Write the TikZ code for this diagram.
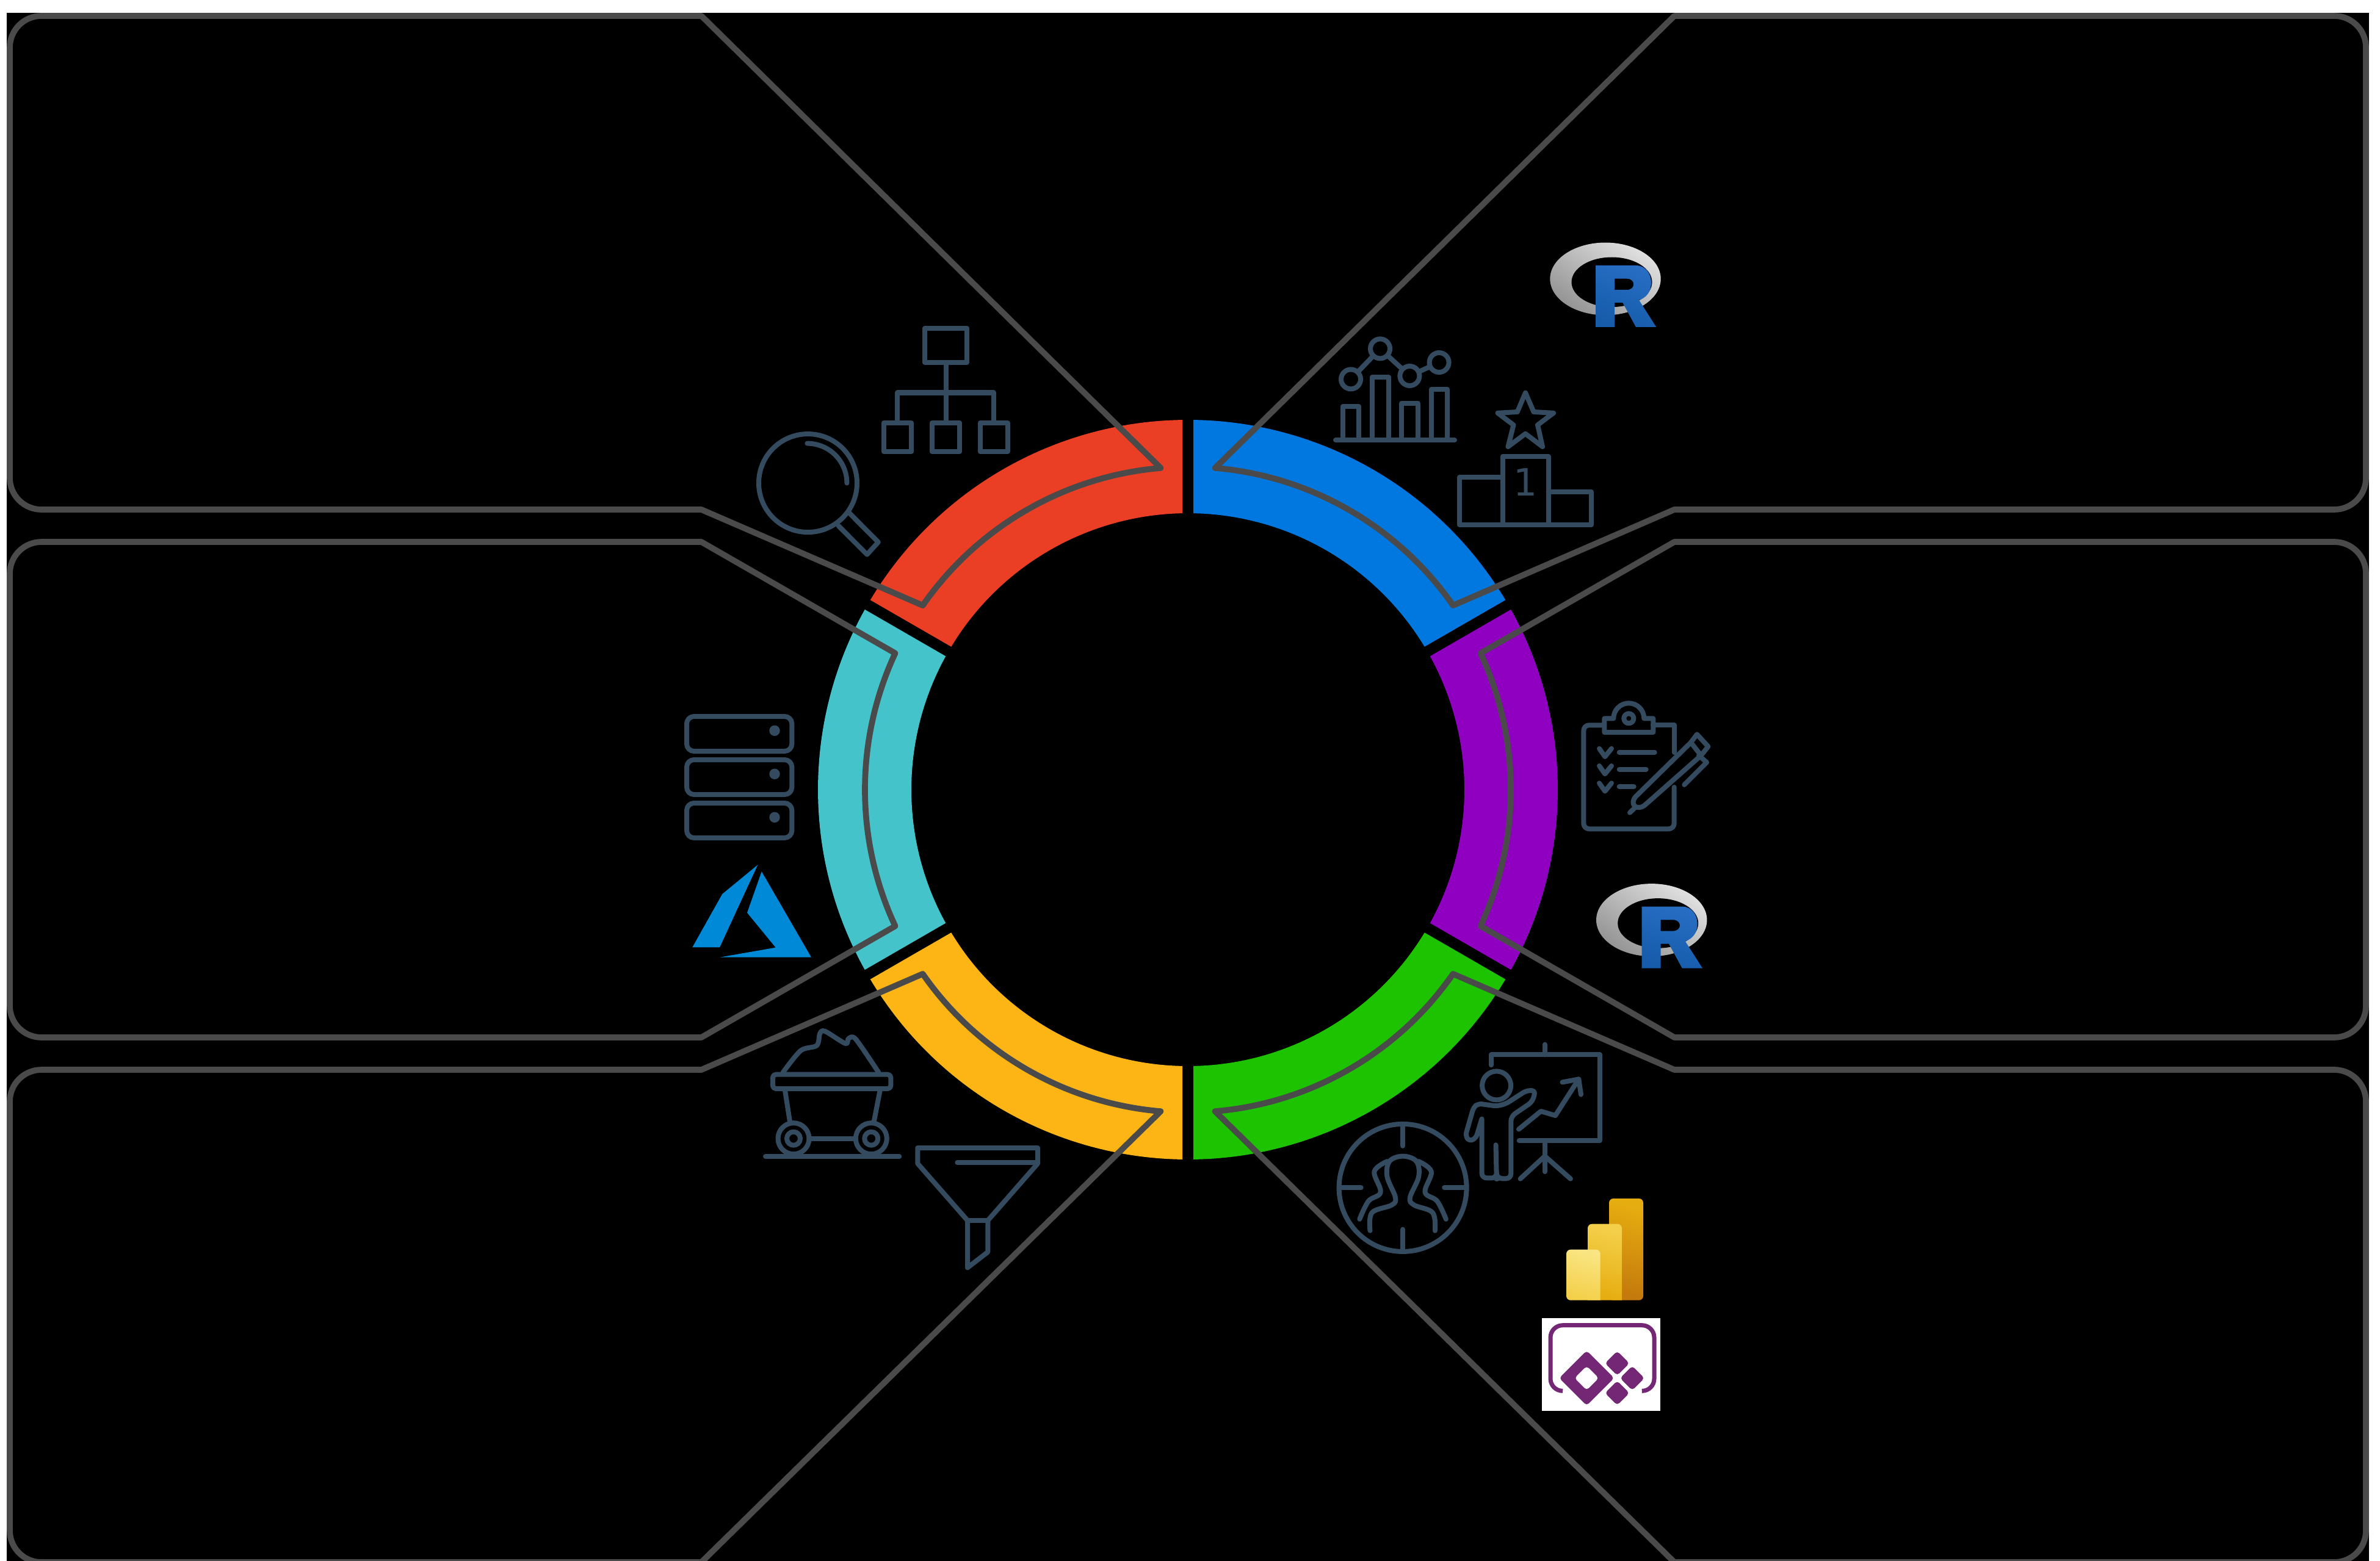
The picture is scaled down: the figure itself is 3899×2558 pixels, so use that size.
\documentclass[tikz,border=0pt]{standalone}
\usepackage{fontspec}
\newfontfamily\dejavu{DejaVu Sans}
\definecolor{panelgrey}{HTML}{4A4A4A}
\definecolor{iconblue}{HTML}{344B5F}
\definecolor{segred}{HTML}{EA3F24}
\definecolor{segblue}{HTML}{0078DF}
\definecolor{segpurple}{HTML}{8F00C0}
\definecolor{seggreen}{HTML}{1EC300}
\definecolor{segyellow}{HTML}{FDB515}
\definecolor{segteal}{HTML}{44C3CB}
\definecolor{azureblue}{HTML}{0089D6}
\definecolor{appspurple}{HTML}{742774}
\definecolor{rblueA}{HTML}{276DC3}
\definecolor{rblueB}{HTML}{165CAA}
\definecolor{barA}{HTML}{F9E583}
\definecolor{barB}{HTML}{F4D04A}
\definecolor{barC}{HTML}{E6AD10}
\definecolor{barD}{HTML}{C47A0C}
\tikzset{
  panel/.style={draw=panelgrey,line width=0.097cm,line join=round},
  icon/.style={draw=iconblue,line width=0.08cm,line join=round,line cap=round},
  outerround/.style={rounded corners=0.52cm},
  appsdiamond/.style={fill=appspurple,rounded corners=0.05cm},
}
\newcommand{\ringseg}[3]{\fill[#3] (#1+0.85:606) arc[start angle=#1+0.85,end angle=#2-0.85,radius=606] -- (#2-1.14:453) arc[start angle=#2-1.14,end angle=#1+1.14,radius=453] -- cycle;}
\newcommand{\rlogo}[2]{%
  \begin{scope}[shift={(#1,#2)}]
    \path[top color=black!12!white,bottom color=black!42!white,shading angle=-35] (2630,457) ellipse[x radius=90.7,y radius=59.5];
    \fill[black] (2640.5,462.3) ellipse[x radius=66,y radius=40.8];
    \path[top color=rblueA,bottom color=rblueB,shading angle=-20,even odd rule]
      (2614,435) -- (2680,435) .. controls (2696,435) and (2705,449) .. (2705,463)
      .. controls (2705,478) and (2697,488) .. (2685,491.7) -- (2713.3,536) -- (2680,536) -- (2658.3,496) -- (2645,496) -- (2645,536) -- (2614,536) -- cycle
      (2645,456.7) -- (2665,456.7) .. controls (2680,456.7) and (2680,475) .. (2665,475) -- (2645,475) -- cycle;
  \end{scope}}
\begin{document}
\begin{tikzpicture}[x=0.01cm,y=-0.01cm]
\useasboundingbox (0,0) rectangle (3899,2558);
\fill[white] (0,0) rectangle (3899,2558);
\fill[black] (11,21) rectangle (3880.7,2558);
% ring and panels, centre frame with y up
\begin{scope}[shift={(1946,1294)},yscale=-1]
  \ringseg{30}{90}{segblue}
  \ringseg{90}{150}{segred}
  \ringseg{150}{210}{segteal}
  \ringseg{210}{270}{segyellow}
  \ringseg{270}{330}{seggreen}
  \ringseg{-30}{30}{segpurple}
  \draw[panel] (-797,1268) -- (94.83:529) arc[start angle=94.83,end angle=145.2,radius=529] -- (-797,459) [outerround] -- (-1930,459) -- (-1930,1268) [sharp corners] -- cycle;
  \draw[panel] (-797,406) -- (155:529) arc[start angle=155,end angle=205,radius=529] -- (-797,-406) [outerround] -- (-1930,-406) -- (-1930,406) [sharp corners] -- cycle;
  \draw[panel] (-797,-459) -- (214.8:529) arc[start angle=214.8,end angle=265.17,radius=529] -- (-797,-1266) [outerround] -- (-1930,-1266) -- (-1930,-459) [sharp corners] -- cycle;
  \draw[panel] (797,1268) -- (85.17:529) arc[start angle=85.17,end angle=34.8,radius=529] -- (797,459) [outerround] -- (1930,459) -- (1930,1268) [sharp corners] -- cycle;
  \draw[panel] (797,406) -- (25:529) arc[start angle=25,end angle=-25,radius=529] -- (797,-406) [outerround] -- (1930,-406) -- (1930,406) [sharp corners] -- cycle;
  \draw[panel] (797,-459) -- (325.2:529) arc[start angle=325.2,end angle=274.83,radius=529] -- (797,-1266) [outerround] -- (1930,-1266) -- (1930,-459) [sharp corners] -- cycle;
\end{scope}
% org chart
\draw[icon] (1515,538) rectangle (1584,594);
\draw[icon] (1549.5,594) -- (1549.5,693);
\draw[icon] (1470.4,691) -- (1470.4,643.5) -- (1628,643.5) -- (1628,691);
\draw[icon] (1447.5,693) rectangle (1493.4,740);
\draw[icon] (1526.5,693) rectangle (1572.4,740);
\draw[icon] (1605.6,693) rectangle (1650.5,740);
% magnifier
\draw[icon] (1323.5,791.6) circle[radius=80.5];
\draw[icon] (1322.4,726.6) arc[start angle=-90,end angle=0,radius=65];
\draw[icon] (1373.5,861.6) -- (1420.4,908.7) -- (1438.8,888.4) -- (1391.3,840.6);
% bar chart
\draw[icon] (2188,721.4) -- (2383,721.4);
\draw[icon] (2200,721) -- (2200,666) -- (2226,666) -- (2226,721);
\draw[icon] (2248,721) -- (2248,618) -- (2275,618) -- (2275,721);
\draw[icon] (2296.4,721) -- (2296.4,660.7) -- (2323,660.7) -- (2323,721);
\draw[icon] (2345,721) -- (2345,638) -- (2371,638) -- (2371,721);
\draw[icon] (2213,621.4) -- (2261,571.4) -- (2309.4,616) -- (2357.6,594);
\foreach \cx/\cy in {2213/621.4,2261/571.4,2309.4/616,2357.6/594}
  \filldraw[icon,fill=black] (\cx,\cy) circle[radius=16];
% podium
\draw[icon] (2461.6,860) -- (2391,860) -- (2391,782) -- (2461.6,782);
\draw[icon] (2461.6,860) -- (2461.6,748) -- (2536.6,748) -- (2536.6,860) -- cycle;
\draw[icon] (2536.6,806) -- (2607,806) -- (2607,860) -- (2536.6,860);
\draw[icon] (2499,643.6) -- (2512.5,675) -- (2545,676.8) -- (2519,696.4) -- (2527,732) -- (2499,710.7) -- (2470.5,732) -- (2479.5,696.4) -- (2453.6,676.8) -- (2485.7,675) -- cycle;
\node[font=\dejavu\fontsize{17.5}{17.5}\selectfont,text=iconblue,inner sep=0pt] (podiumone) at (2499,790) {1};
% R logos
\rlogo{0}{0}
\rlogo{75.7}{1050.6}
% clipboard
\draw[icon] (2742.7,1233) -- (2742.7,1188.3) -- (2708,1188.3);
\draw[icon,rounded corners=0.09cm] (2628,1188.3) -- (2594.3,1188.3) -- (2594.3,1358.3) -- (2742.7,1358.3) -- (2742.7,1290);
\draw[icon] (2628.3,1177.3) -- (2643.3,1177.3) arc[start angle=180,end angle=360,radius=25] -- (2708.3,1177.3) -- (2708.3,1200) -- (2628.3,1200) -- cycle;
\draw[icon] (2668.3,1177.3) circle[radius=8];
\foreach \yy in {1226.7,1255,1283.3}{
  \draw[icon] (2620,\yy) -- (2629.3,\yy+13.3) -- (2640,\yy);
}
\draw[icon] (2652.7,1232.7) -- (2710.7,1232.7);
\draw[icon] (2652.7,1260.7) -- (2696.7,1260.7);
\draw[icon] (2652.7,1289) -- (2676.7,1289);
\draw[icon] (2670,1331.7) -- (2679,1323);
\draw[icon] (2770,1216.7) -- (2680,1305) .. controls (2668,1318) and (2682,1330) .. (2695,1319) -- (2786.7,1238);
\draw[icon] (2770,1216.7) -- (2780,1203.3) -- (2798.3,1223.3) -- (2786.7,1238) -- cycle;
\draw[icon] (2783,1238) -- (2796,1249.3) -- (2759.3,1286);
% presenter
\draw[icon] (2442.8,1745.2) -- (2442.8,1728.4) -- (2620.7,1728.4) -- (2620.7,1869.4) -- (2488.7,1869.4);
\draw[icon] (2530.8,1711.6) -- (2530.8,1728.4);
\draw[icon] (2530.8,1869.4) -- (2530.8,1920);
\draw[icon] (2490.6,1931.7) -- (2530.8,1894.6) -- (2572.9,1931.7);
\draw[icon] (2488,1850.5) -- (2524.3,1821) -- (2548,1828) -- (2586.3,1768.4);
\draw[icon] (2559.5,1773.4) -- (2586.3,1768.4) -- (2590,1793.6);
\draw[icon] (2451.6,1778.9) circle[radius=23.5];
\draw[icon,rounded corners=0.08cm] (2427.5,1833.6) -- (2427.5,1930.4) -- (2451.6,1930.4) -- (2451.6,1924) -- (2450.4,1871.5) -- (2451.6,1924) -- (2453,1931.3) -- (2475.3,1931.3) -- (2475.3,1829.4) -- (2511,1805) [rounded corners=0.06cm] -- (2515,1787) -- (2500.2,1787.3) -- (2467.6,1808.4) -- (2452.3,1812.6) -- (2421.7,1808.4) -- (2414,1814.7) -- (2400.7,1861) -- (2407,1870.2) -- (2417.9,1865.2) -- (2427.5,1833.6);
% people target
\draw[icon] (2298.1,1946.4) circle[radius=104.5];
\draw[icon] (2298.1,1844) -- (2298.1,1877.8);
\draw[icon] (2298.1,2014.6) -- (2298.1,2049);
\draw[icon] (2194,1946.4) -- (2229.6,1946.4);
\draw[icon] (2366.2,1946.4) -- (2402,1946.4);
\draw[icon] plot[smooth,tension=0.6] coordinates {(2244.5,2016.7) (2247.6,1987.2) (2280,1974.6) (2285.9,1962) (2272.5,1928.3) (2276.3,1903) (2298.1,1894.6) (2320.3,1903) (2324.1,1928.3) (2310,1962) (2316.5,1974.6) (2347,1987.2) (2350.9,2016.7)};
\draw[icon] plot[smooth,tension=0.6] coordinates {(2272.5,1903) (2251.4,1919.9) (2261.7,1953.6) (2241.8,1968.3) (2227.3,1997.8)};
\draw[icon] plot[smooth,tension=0.6] coordinates {(2323.7,1903) (2344.8,1919.9) (2334.5,1953.6) (2354.4,1968.3) (2368.9,1997.8)};
% power bi
\path[rounded corners=0.07cm,top color=barC,bottom color=barD,shading angle=-15] (2636,2130.7) -- (2636,1964) -- (2692,1964) -- (2692,2130.7) -- cycle;
\path[top color=barB,bottom color=barC,shading angle=-15] (2601,2130.7) [rounded corners=0.07cm] -- (2601,2005.7) -- (2657,2005.7) [sharp corners] -- (2657,2130.7) -- cycle;
\path[top color=barA,bottom color=barB,shading angle=-15] (2566,2090) [rounded corners=0.07cm] -- (2566,2047.7) -- (2621.7,2047.7) [sharp corners] -- (2621.7,2130.7) [rounded corners=0.07cm] -- (2566,2130.7) -- (2566,2090) -- cycle;
% power apps
\fill[white] (2526,2160) rectangle (2720,2311.7);
\draw[draw=appspurple,line width=0.07cm,rounded corners=0.2cm] (2560,2279.3) -- (2540,2279.3) -- (2540,2171.7) -- (2710,2171.7) -- (2710,2279.3) -- (2690,2279.3);
\fill[appsdiamond,even odd rule] (2599.3,2213.3) -- (2644.3,2258.3) -- (2599.3,2303.3) -- (2554.3,2258.3) -- cycle (2599.3,2238.3) -- (2619.3,2258.3) -- (2599.3,2278.3) -- (2579.3,2258.3) -- cycle;
\foreach \dx/\dy in {2649.3/2234,2674/2258.3,2649.3/2282.7}
  \fill[appsdiamond] (\dx,\dy-20) -- (\dx+20,\dy) -- (\dx,\dy+20) -- (\dx-20,\dy) -- cycle;
% azure
\fill[azureblue] (1241.3,1417.3) -- (1183.3,1465) -- (1134.3,1552.3) -- (1179,1552.3) -- cycle;
\fill[azureblue] (1247.7,1428.3) -- (1224,1495.7) -- (1270.7,1552.7) -- (1179.3,1568.7) -- (1329,1568.7) -- cycle;
% servers
\foreach \yy in {1174,1245,1316}{
  \draw[icon,rounded corners=0.12cm] (1125,\yy) rectangle (1297.3,\yy+57);
  \fill[iconblue] (1269,\yy+23.3) circle[radius=8.7];
}
% mine cart
\draw[icon] (1254,1895.3) -- (1473.3,1895.3);
\draw[icon] (1300,1865.7) circle[radius=25.5];
\draw[icon] (1300,1865.7) circle[radius=11];
\draw[icon] (1427.3,1865.7) circle[radius=25.5];
\draw[icon] (1427.3,1865.7) circle[radius=11];
\draw[icon] (1325.5,1865.7) -- (1401.8,1865.7);
\draw[icon,rounded corners=0.05cm] (1266,1760.7) rectangle (1459.3,1784);
\draw[icon] (1286,1786.7) -- (1294,1838);
\draw[icon] (1441.7,1786.7) -- (1431.7,1838);
\draw[icon] plot[smooth,tension=0.5] coordinates {(1282.7,1757.3) (1311.7,1721.7) (1338,1713.3) (1343.3,1693.3) (1351.7,1690) (1385,1710) (1390,1702) (1402,1703) (1439.3,1757.3)};
% funnel
\draw[icon] (1503.3,1906.7) -- (1503.3,1881) -- (1700,1881) -- (1700,1906.7) -- (1618.3,2000) -- (1618.3,2051.7) -- (1585,2077.3) -- (1585,2000) -- cycle;
\draw[icon] (1585,2000) -- (1618.3,2000);
\draw[icon] (1568.3,1905) -- (1695,1905);
\end{tikzpicture}
\end{document}
